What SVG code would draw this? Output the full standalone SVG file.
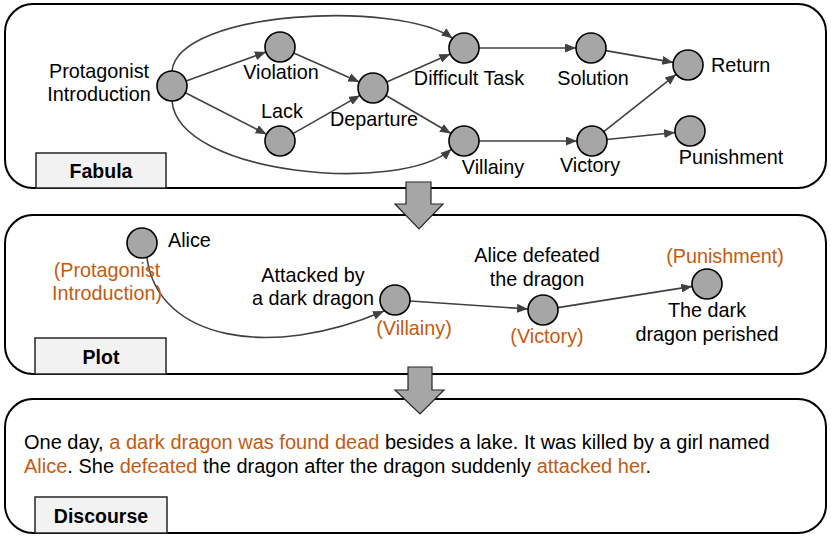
<svg xmlns="http://www.w3.org/2000/svg" width="831" height="539" viewBox="0 0 831 539">
<defs>
<marker id="ah" markerUnits="userSpaceOnUse" markerWidth="11" markerHeight="9" refX="11" refY="4.5" orient="auto">
<path d="M0,0 L11,4.5 L0,9 z" fill="#404040"/>
</marker>
<style>
text{font-family:"Liberation Sans",Arial,sans-serif;font-size:19.8px;fill:#000}
.or{fill:#c55a11}
.lbl{font-weight:bold;font-size:19.5px;text-anchor:middle}
.mid{text-anchor:middle}
.disc{font-size:20px}
.panel{fill:#fff;stroke:#000;stroke-width:2}
.tag{fill:#f2f2f2;stroke:#262626;stroke-width:1.5}
.node{fill:#a6a6a6;stroke:#000;stroke-width:1.6}
.edge{fill:none;stroke:#404040;stroke-width:1.6;marker-end:url(#ah)}
.big{fill:#a6a6a6;stroke:#262626;stroke-width:1.2}
</style>
</defs>
<rect width="831" height="539" fill="#fff"/>
<g id="panel-fabula">
<rect class="panel" x="5" y="4" width="821" height="184" rx="28"/>
<rect class="tag" x="36" y="153" width="130" height="35"/>
<text class="lbl" x="101" y="178">Fabula</text>
</g>
<g id="panel-plot">
<rect class="panel" x="5" y="215" width="821" height="159" rx="28"/>
<rect class="tag" x="35" y="338" width="131" height="36"/>
<text class="lbl" x="101" y="364">Plot</text>
</g>
<g id="panel-discourse">
<rect class="panel" x="5" y="399" width="821" height="134" rx="28"/>
<rect class="tag" x="35" y="497" width="132" height="36"/>
<text class="lbl" x="101" y="523">Discourse</text>
<text class="disc" x="24" y="449">One day, <tspan class="or">a dark dragon was found dead</tspan> besides a lake. It was killed by a girl named</text>
<text class="disc" x="24" y="473"><tspan class="or">Alice</tspan>. She <tspan class="or">defeated</tspan> the dragon after the dragon suddenly <tspan class="or">attacked her</tspan>.</text>
</g>
<g id="connectors">
<path class="edge" d="M186.1,80.9 L265.9,52.1"/>
<path class="edge" d="M185.4,92.8 L266.6,134.2"/>
<path class="edge" d="M293.7,53.1 L359.3,81.9"/>
<path class="edge" d="M293,133.6 L360,95.4"/>
<path class="edge" d="M386.7,82 L450.3,54"/>
<path class="edge" d="M386,95.5 L451,133.5"/>
<path class="edge" d="M172,71 C178,10 400,0 452.6,38.3"/>
<path class="edge" d="M172,101 C178,175 400,195 451.5,149"/>
<path class="edge" d="M479,48 L576,48"/>
<path class="edge" d="M605.8,50.6 L673.2,62.4"/>
<path class="edge" d="M479,141 L577,141"/>
<path class="edge" d="M603.8,131.7 L676.2,74.3"/>
<path class="edge" d="M606.9,139.5 L675.1,132.5"/>
<path class="edge" d="M147,258 C158,340 270,360 384,311"/>
<path class="edge" d="M410,301 L528,309"/>
<path class="edge" d="M557.8,307.6 L692.2,286.4"/>
</g>
<g id="n-protagonist">
<circle class="node" cx="172" cy="86" r="15"/>
<text class="mid" x="99" y="78">Protagonist</text>
<text class="mid" x="99" y="101">Introduction</text>
</g>
<g id="n-violation">
<circle class="node" cx="280" cy="47" r="15"/>
<text class="mid" x="281" y="79">Violation</text>
</g>
<g id="n-lack">
<circle class="node" cx="280" cy="141" r="15"/>
<text class="mid" x="282" y="118">Lack</text>
</g>
<g id="n-departure">
<circle class="node" cx="373" cy="88" r="15"/>
<text class="mid" x="374" y="126">Departure</text>
</g>
<g id="n-difficult-task">
<circle class="node" cx="464" cy="48" r="15"/>
<text class="mid" x="469" y="85">Difficult Task</text>
</g>
<g id="n-solution">
<circle class="node" cx="591" cy="48" r="15"/>
<text class="mid" x="593" y="85">Solution</text>
</g>
<g id="n-return">
<circle class="node" cx="688" cy="65" r="15"/>
<text x="711" y="72">Return</text>
</g>
<g id="n-villainy">
<circle class="node" cx="464" cy="141" r="15"/>
<text class="mid" x="493" y="174">Villainy</text>
</g>
<g id="n-victory">
<circle class="node" cx="592" cy="141" r="15"/>
<text class="mid" x="590" y="172">Victory</text>
</g>
<g id="n-punishment">
<circle class="node" cx="690" cy="131" r="15"/>
<text class="mid" x="731" y="164">Punishment</text>
</g>
<g id="p-alice">
<circle class="node" cx="142" cy="243" r="15"/>
<text x="168" y="247">Alice</text>
<text class="mid or" x="107" y="277">(Protagonist</text>
<text class="mid or" x="107" y="300">Introduction)</text>
</g>
<g id="p-attacked">
<circle class="node" cx="395" cy="300" r="15"/>
<text class="mid" x="313" y="282">Attacked by</text>
<text class="mid" x="313" y="305">a dark dragon</text>
<text class="mid or" x="414" y="335">(Villainy)</text>
</g>
<g id="p-victory">
<circle class="node" cx="543" cy="310" r="15"/>
<text class="mid" x="537" y="262">Alice defeated</text>
<text class="mid" x="537" y="286">the dragon</text>
<text class="mid or" x="547" y="343">(Victory)</text>
</g>
<g id="p-punishment">
<circle class="node" cx="707" cy="284" r="15"/>
<text class="mid or" x="725" y="263">(Punishment)</text>
<text class="mid" x="707" y="317">The dark</text>
<text class="mid" x="707" y="341">dragon perished</text>
</g>
<g id="flow-arrows">
<polygon class="big" points="406,182 431,182 431,204 443,204 419,229 395,204 406,204"/>
<polygon class="big" points="408,367 432,367 432,390 444,390 420,414 395,390 408,390"/>
</g>
</svg>
